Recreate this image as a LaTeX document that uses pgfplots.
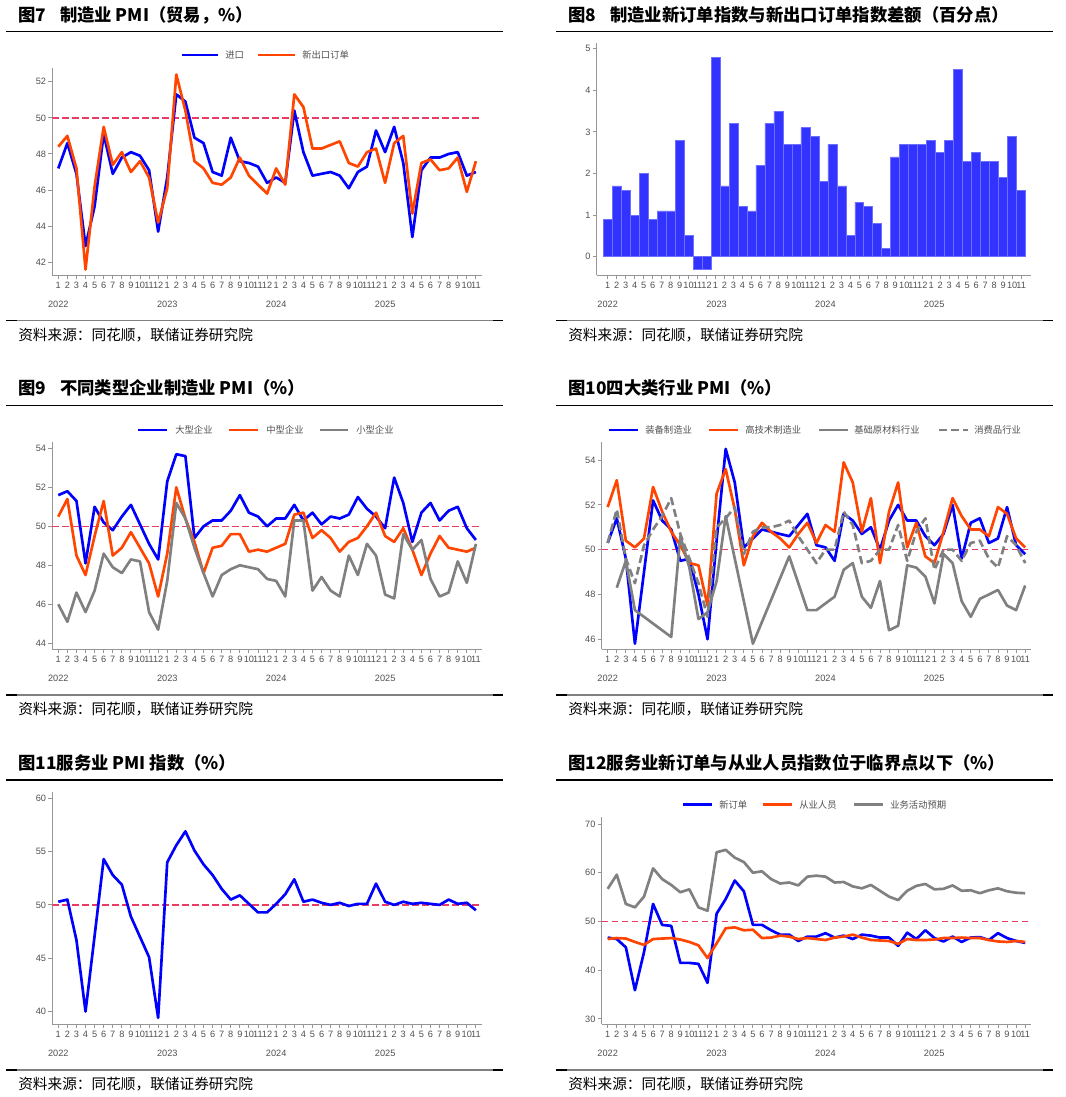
\documentclass[border=0pt]{standalone}
\usepackage{pgfplots}
\usepackage{pgfplotstable}
\pgfplotsset{compat=1.18}
\usepackage{fontspec}
\setmainfont{Liberation Sans}
\newfontfamily\cjk{Noto Sans CJK SC}
\definecolor{pblue}{RGB}{0,0,255}
\definecolor{porange}{RGB}{255,69,0}
\definecolor{pgrey}{RGB}{128,128,128}
\definecolor{refred}{RGB}{232,60,100}
\definecolor{axgray}{RGB}{150,150,150}
\definecolor{labgray}{RGB}{80,80,80}
\definecolor{barfill}{RGB}{51,51,255}
\definecolor{baredge}{RGB}{110,110,255}
\newcommand\tickf{\fontsize{6.9}{6.9}\selectfont}
\newcommand\titf{\fontsize{13}{15}\selectfont\cjk\bfseries}
\newcommand\srcf{\fontsize{11}{13}\selectfont\cjk}
\newcommand\legf{\fontsize{7}{7}\selectfont\cjk\color{labgray}}

\pgfplotstableread{
imp exp
47.2 48.4
48.6 49.0
46.9 47.2
42.9 41.6
45.1 46.2
49.1 49.5
46.9 47.4
47.8 48.1
48.1 47.0
47.9 47.6
47.1 46.7
43.7 44.2
46.7 46.1
51.3 52.4
50.9 50.4
48.9 47.6
48.6 47.2
47.0 46.4
46.8 46.3
48.9 46.7
47.6 47.8
47.5 46.8
47.3 46.3
46.4 45.8
46.7 47.2
46.4 46.3
50.4 51.3
48.1 50.6
46.8 48.3
46.9 48.3
47.0 48.5
46.8 48.7
46.1 47.5
47.0 47.3
47.3 48.1
49.3 48.3
48.1 46.4
49.5 48.6
47.5 49.0
43.4 44.7
47.1 47.5
47.8 47.7
47.8 47.1
48.0 47.2
48.1 47.8
46.8 45.9
47.0 47.6
}\tabA

\pgfplotstableread{
d
0.9
1.7
1.6
1.0
2.0
0.9
1.1
1.1
2.8
0.5
-0.3
-0.3
4.8
1.7
3.2
1.2
1.1
2.2
3.2
3.5
2.7
2.7
3.1
2.9
1.8
2.7
1.7
0.5
1.3
1.2
0.8
0.2
2.4
2.7
2.7
2.7
2.8
2.5
2.8
4.5
2.3
2.5
2.3
2.3
1.9
2.9
1.6
}\tabB

\pgfplotstableread{
lg md sm
51.6 50.5 46.0
51.8 51.4 45.1
51.3 48.5 46.6
48.1 47.5 45.6
51.0 49.5 46.7
50.2 51.3 48.6
49.8 48.5 47.9
50.5 48.9 47.6
51.1 49.7 48.3
50.1 48.9 48.2
49.1 48.1 45.6
48.3 46.4 44.7
52.3 48.6 47.2
53.7 52.0 51.2
53.6 50.4 50.4
49.4 49.2 48.9
50.0 47.6 47.6
50.3 48.9 46.4
50.3 49.0 47.5
50.8 49.6 47.8
51.6 49.6 48.0
50.7 48.7 47.9
50.5 48.8 47.8
50.0 48.7 47.3
50.4 48.9 47.2
50.4 49.1 46.4
51.1 50.6 50.3
50.3 50.7 50.3
50.7 49.4 46.7
50.1 49.8 47.4
50.5 49.4 46.7
50.4 48.7 46.4
50.6 49.2 48.5
51.5 49.4 47.5
50.9 50.0 49.1
50.5 50.7 48.5
49.9 49.5 46.5
52.5 49.2 46.3
51.2 49.9 49.6
49.2 48.8 48.8
50.7 47.5 49.3
51.2 48.6 47.3
50.3 49.5 46.4
50.8 48.9 46.6
51.0 48.8 48.2
49.9 48.7 47.1
49.3 48.9 49.1
}\tabC

\pgfplotstableread{
eq ht raw con
50.3 51.9 nan 50.3
51.4 53.1 48.3 51.8
49.6 50.4 49.5 49.6
45.8 50.1 47.3 48.5
49.0 50.5 nan 50.2
52.2 52.8 nan 50.9
51.3 51.7 nan 51.5
50.9 50.8 46.1 52.3
49.5 50.2 50.6 50.7
49.6 49.4 49.2 49.6
48.0 49.3 46.9 48.5
46.0 47.5 47.2 47.0
50.4 52.5 48.6 51.0
54.5 53.6 51.5 51.4
53.0 51.8 nan 51.9
50.1 49.3 nan 49.8
50.5 50.6 45.8 50.8
50.9 51.2 nan 51.0
50.8 50.8 nan 51.0
50.7 50.5 nan 51.1
50.6 50.1 49.7 51.3
51.1 50.7 nan 50.6
51.6 51.2 47.3 50.0
50.2 50.3 47.3 49.4
50.1 51.1 47.6 50.0
49.5 50.8 47.9 50.0
51.6 53.9 49.1 51.7
51.3 53.0 49.4 51.1
50.7 50.8 47.9 49.4
51.0 52.3 47.4 49.5
50.0 49.4 48.6 50.0
51.3 51.7 46.4 50.0
52.0 53.0 46.6 51.1
51.3 50.1 49.3 49.5
51.3 51.2 49.2 50.8
50.6 49.7 48.8 51.4
50.2 49.4 47.6 49.1
50.7 50.8 49.8 50.0
52.0 52.3 49.4 50.0
49.6 51.5 47.7 49.5
51.2 50.9 47.0 50.3
51.4 50.9 47.8 50.4
50.3 50.6 48.0 49.6
50.5 51.9 48.2 49.2
51.9 51.6 47.5 50.6
50.2 50.5 47.3 50.2
49.8 50.1 48.4 49.4
}\tabD

\pgfplotstableread{
s
50.3
50.5
46.7
40.0
47.1
54.3
52.8
51.9
48.9
47.0
45.1
39.4
54.0
55.6
56.9
55.1
53.8
52.8
51.5
50.5
50.9
50.1
49.3
49.3
50.1
51.0
52.4
50.3
50.5
50.2
50.0
50.2
49.9
50.1
50.1
52.0
50.3
50.0
50.3
50.1
50.2
50.1
50.0
50.5
50.1
50.2
49.5
}\tabE

\pgfplotstableread{
no em ex
46.7 46.4 56.7
46.4 46.6 59.6
44.7 46.5 53.6
35.9 45.8 52.9
43.7 45.2 55.1
53.6 46.4 60.9
49.3 46.5 58.7
49.1 46.6 57.5
41.5 46.3 56.0
41.5 45.8 56.6
41.3 45.1 52.9
37.4 42.5 52.2
51.6 45.5 64.2
54.6 48.6 64.7
58.4 48.8 63.1
56.2 48.2 62.2
49.3 48.3 60.0
49.3 46.6 60.3
48.2 46.7 58.7
47.3 47.1 57.8
47.3 46.9 58.0
46.0 46.4 57.4
46.9 46.6 59.2
46.9 46.4 59.4
47.6 46.2 59.2
46.7 46.7 58.0
47.1 46.9 58.1
46.4 47.3 57.2
47.3 46.7 56.8
47.1 46.2 57.5
46.7 46.1 56.3
46.7 46.0 55.1
45.0 45.4 54.4
47.7 46.4 56.3
46.4 46.2 57.3
48.2 46.2 57.7
46.6 46.3 56.6
45.9 46.6 56.7
46.9 46.6 57.4
45.8 46.7 56.3
46.7 46.6 56.4
46.8 46.6 55.8
46.2 46.2 56.4
47.6 45.9 56.8
46.6 45.8 56.2
46.0 46.0 55.9
45.6 45.8 55.8
}\tabF

\pgfplotsset{
  base/.style={
    scale only axis, anchor=south west,
    axis x line*=bottom, axis y line*=left,
    axis line style={draw=axgray, line width=1pt},
    every tick/.style={draw=axgray, line width=0.7pt},
    major tick length=3pt,
    tick align=outside,
    xtick={0,...,46},
    xticklabels={1,2,3,4,5,6,7,8,9,10,11,12,1,2,3,4,5,6,7,8,9,10,11,12,1,2,3,4,5,6,7,8,9,10,11,12,1,2,3,4,5,6,7,8,9,10,11},
    xticklabel style={font=\tickf, text=labgray, inner sep=0pt, yshift=-1.8pt},
    yticklabel style={font=\tickf, text=labgray, inner sep=0pt, xshift=-1.5pt},
    /pgf/number format/assume math mode=true,
    xmin=-0.66, xmax=46.64,
  },
  ln/.style={line width=2pt, line join=round},
  refl/.style={refred, line width=1.2pt, dash pattern=on 5pt off 2.5pt, forget plot},
}

\begin{document}
\begin{tikzpicture}
\useasboundingbox (0pt,0pt) rectangle (799.5pt,-822.75pt);

% ---------- Panel 7
\begin{axis}[base, at={(39.225pt,-206.475pt)}, width=322.05pt, height=155.475pt,
  ymin=41.28, ymax=52.76, ytick={42,44,...,52}]
\addplot[refl] coordinates {(-0.66,50) (46.64,50)};
\addplot[ln, pblue] table[x expr=\coordindex, y=imp] {\tabA};
\addplot[ln, porange] table[x expr=\coordindex, y=exp] {\tabA};
\end{axis}

% ---------- Panel 8
\begin{axis}[base, at={(447.525pt,-206.475pt)}, width=325.725pt, height=174.225pt,
  xmin=-1.22, xmax=47.1, ymin=-0.45, ymax=5.14, ytick={0,...,5}]
\addplot[ybar, bar width=1, fill=barfill, draw=baredge, line width=0.5pt] table[x expr=\coordindex, y=d] {\tabB};
\end{axis}

% ---------- Panel 9
\begin{axis}[base, at={(39.225pt,-486.975pt)}, width=322.05pt, height=155.7pt,
  ymin=43.69, ymax=54.34, ytick={44,46,...,54}]
\addplot[refl] coordinates {(-0.66,50) (46.64,50)};
\addplot[ln, pblue] table[x expr=\coordindex, y=lg] {\tabC};
\addplot[ln, porange] table[x expr=\coordindex, y=md] {\tabC};
\addplot[ln, pgrey] table[x expr=\coordindex, y=sm] {\tabC};
\end{axis}

% ---------- Panel 10
\begin{axis}[base, at={(451.275pt,-486.975pt)}, width=321.975pt, height=155.7pt,
  ymin=45.55, ymax=54.82, ytick={46,48,...,54}]
\addplot[refl] coordinates {(-0.66,50) (46.64,50)};
\addplot[ln, pblue] table[x expr=\coordindex, y=eq] {\tabD};
\addplot[ln, porange] table[x expr=\coordindex, y=ht] {\tabD};
\addplot[ln, pgrey] table[x expr=\coordindex, y=raw] {\tabD};
\addplot[ln, pgrey, dash pattern=on 6pt off 3pt] table[x expr=\coordindex, y=con] {\tabD};
\end{axis}

% ---------- Panel 11
\begin{axis}[base, at={(39.225pt,-768.225pt)}, width=322.05pt, height=174.45pt,
  ymin=38.8, ymax=60.62, ytick={40,45,...,60}]
\addplot[refl] coordinates {(-0.66,50) (46.64,50)};
\addplot[ln, pblue] table[x expr=\coordindex, y=s] {\tabE};
\end{axis}

% ---------- Panel 12
\begin{axis}[base, at={(451.275pt,-768.225pt)}, width=321.975pt, height=155.7pt,
  ymin=28.9, ymax=71.5, ytick={30,40,...,70}]
\addplot[refl] coordinates {(-0.66,50) (46.64,50)};
\addplot[ln, pblue] table[x expr=\coordindex, y=no] {\tabF};
\addplot[ln, porange] table[x expr=\coordindex, y=em] {\tabF};
\addplot[ln, pgrey] table[x expr=\coordindex, y=ex] {\tabF};
\end{axis}

\begin{scope}[x=0.75pt, y=-0.75pt]
% titles
\node[anchor=west, inner sep=0pt] at (18,15) {\titf 图7\hspace{0.8em}制造业 PMI（贸易，\%）};
\node[anchor=west, inner sep=0pt] at (568,15) {\titf 图8\hspace{0.8em}制造业新订单指数与新出口订单指数差额（百分点）};
\node[anchor=west, inner sep=0pt] at (18,388) {\titf 图9\hspace{0.8em}不同类型企业制造业 PMI（\%）};
\node[anchor=west, inner sep=0pt] at (568,388) {\titf 图10四大类行业 PMI（\%）};
\node[anchor=west, inner sep=0pt] at (18,763) {\titf 图11服务业 PMI 指数（\%）};
\node[anchor=west, inner sep=0pt] at (568,763) {\titf 图12服务业新订单与从业人员指数位于临界点以下（\%）};
% rules
\foreach \yy in {31.5,405.7,780} {
  \draw[black, line width=1pt] (6,\yy) -- (503,\yy);
  \draw[black, line width=1pt] (556,\yy) -- (1053,\yy);
}
\foreach \yy in {320.7,695,1070} {
  \draw[gray, line width=0.8pt] (6,\yy) -- (503,\yy);
  \draw[gray, line width=0.8pt] (556,\yy) -- (1053,\yy);
  \draw[black, line width=1pt] (6,\yy) -- (17,\yy) (493,\yy) -- (503,\yy);
  \draw[black, line width=1pt] (556,\yy) -- (567,\yy) (1043,\yy) -- (1053,\yy);
}
% sources
\foreach \xx/\yy in {18/335,568/335,18/709.3,568/709.3,18/1084,568/1084} {
  \node[anchor=west, inner sep=0pt] at (\xx,\yy) {\srcf 资料来源：同花顺，联储证券研究院};
}
% year labels
\foreach \yy in {304,678.3,1053.3} {
  \foreach \xx/\lab in {58.3/2022,167.3/2023,276.2/2024,385.2/2025} {
    \node[inner sep=0pt, text=labgray] at (\xx,\yy) {\tickf\lab};
  }
}
\foreach \xx/\lab in {607.7/2022,716.5/2023,825.4/2024,934.2/2025} {
  \node[inner sep=0pt, text=labgray] at (\xx,304) {\tickf\lab};
  \node[inner sep=0pt, text=labgray] at (\xx,678.3) {\tickf\lab};
  \node[inner sep=0pt, text=labgray] at (\xx,1053.3) {\tickf\lab};
}
% legends
\draw[pblue, line width=2pt] (182,55) -- (218,55);
\node[anchor=west, inner sep=0pt] at (225,55) {\legf 进口};
\draw[porange, line width=2pt] (258,55) -- (295,55);
\node[anchor=west, inner sep=0pt] at (302,55) {\legf 新出口订单};

\draw[pblue, line width=2pt] (138,430) -- (167,430);
\node[anchor=west, inner sep=0pt] at (175,430) {\legf 大型企业};
\draw[porange, line width=2pt] (229,430) -- (258,430);
\node[anchor=west, inner sep=0pt] at (266,430) {\legf 中型企业};
\draw[pgrey, line width=2pt] (320,430) -- (348,430);
\node[anchor=west, inner sep=0pt] at (356,430) {\legf 小型企业};

\draw[pblue, line width=2pt] (609,430) -- (638,430);
\node[anchor=west, inner sep=0pt] at (645,430) {\legf 装备制造业};
\draw[porange, line width=2pt] (709,430) -- (738,430);
\node[anchor=west, inner sep=0pt] at (745,430) {\legf 高技术制造业};
\draw[pgrey, line width=2pt] (819,430) -- (848,430);
\node[anchor=west, inner sep=0pt] at (854,430) {\legf 基础原材料行业};
\draw[pgrey, line width=2pt, dash pattern=on 6pt off 3pt] (939,430) -- (968,430);
\node[anchor=west, inner sep=0pt] at (974,430) {\legf 消费品行业};

\draw[pblue, line width=2pt] (683,804.5) -- (712,804.5);
\node[anchor=west, inner sep=0pt] at (719,804.5) {\legf 新订单};
\draw[porange, line width=2pt] (763,804.5) -- (792,804.5);
\node[anchor=west, inner sep=0pt] at (799,804.5) {\legf 从业人员};
\draw[pgrey, line width=2pt] (854,804.5) -- (883,804.5);
\node[anchor=west, inner sep=0pt] at (890,804.5) {\legf 业务活动预期};
\end{scope}
\end{tikzpicture}
\end{document}
